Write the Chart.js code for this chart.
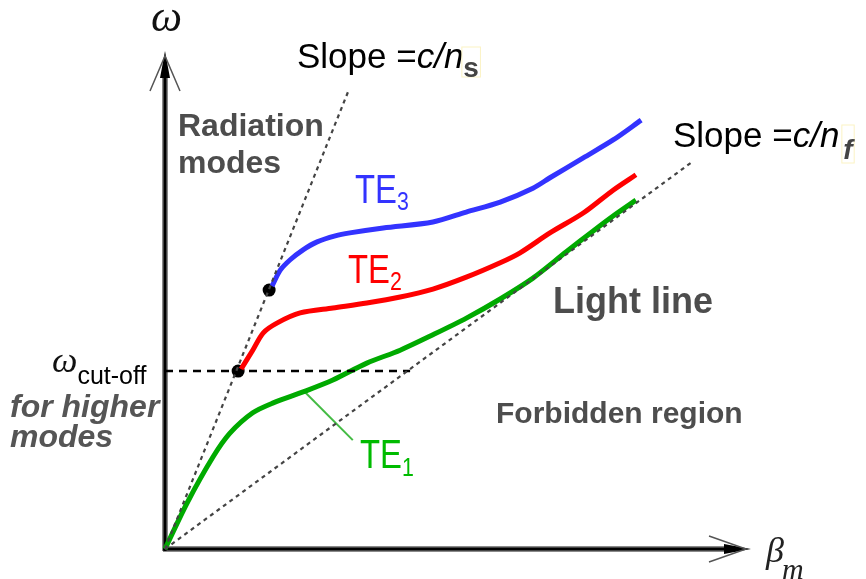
<!DOCTYPE html>
<html>
<head>
<meta charset="utf-8">
<script src="https://cdn.jsdelivr.net/npm/chart.js@4"></script>
<style>
  body { margin: 0; background: #fff; }
  canvas { display: block; }
</style>
</head>
<body>
<canvas id="dispersion" width="866" height="579"></canvas>
<script>
// beta (propagation constant) and omega, arbitrary units 0-10
const betaTE1  = [0, 0.38, 0.82, 1.11, 1.50, 1.85, 2.36, 2.87, 3.45, 4.02, 4.58, 5.16, 5.73, 6.29, 6.86, 7.32, 7.66, 8.05];
const omegaTE1 = [0, 0.93, 1.85, 2.33, 2.74, 2.94, 3.16, 3.40, 3.74, 4.00, 4.31, 4.65, 5.03, 5.45, 5.98, 6.40, 6.70, 7.02];
const betaTE2  = [1.30, 1.50, 1.68, 1.92, 2.31, 2.87, 3.45, 4.02, 4.58, 5.15, 5.73, 6.07, 6.58, 7.15, 7.66, 8.05];
const omegaTE2 = [3.62, 4.00, 4.35, 4.55, 4.75, 4.85, 4.95, 5.07, 5.23, 5.47, 5.76, 5.96, 6.36, 6.76, 7.22, 7.53];
const betaTE3  = [1.83, 1.97, 2.14, 2.36, 2.60, 2.91, 3.16, 3.73, 4.58, 5.15, 5.73, 6.29, 6.58, 7.15, 7.66, 8.14];
const omegaTE3 = [5.29, 5.61, 5.82, 6.02, 6.18, 6.30, 6.36, 6.46, 6.58, 6.78, 6.98, 7.26, 7.47, 7.87, 8.23, 8.63];

// light lines through the origin
const lightS = [[0, 0], [3.15, 9.26]];   // slope c/n_s
const lightF = [[0, 0], [8.99, 7.77]];   // slope c/n_f

// cut-off points where TE2 and TE3 begin
const cutoffBeta  = [1.25, 1.78];
const cutoffOmega = [3.58, 5.21];
const cutoffLevel = 3.58;
const cutoffEnd   = 4.19;

// leader from the TE1 label to its curve
const te1Leader = [[2.39, 3.16], [3.21, 2.19]];

const zip = (xs, ys) => xs.map((v, i) => ({ x: v, y: ys[i] }));
const pts = arr => arr.map(p => ({ x: p[0], y: p[1] }));

const SANS = '"Liberation Sans", Arial, sans-serif';
const SERIF = '"Liberation Serif", "Times New Roman", serif';
const GREY = '#4d4d4d';

// text placed on the sketch (pixel positions)
const labels = [
  { x: 297, y: 68, runs: [
    { text: 'Slope =', font: '35px ' + SANS },
    { text: 'c/n', font: 'italic 35px ' + SANS },
    { text: 's', font: 'bold 28px ' + SANS, color: '#444', dy: 9, box: [-30, 30] }
  ]},
  { x: 673, y: 147, runs: [
    { text: 'Slope =', font: '35px ' + SANS },
    { text: 'c/n', font: 'italic 35px ' + SANS },
    { text: 'f', font: 'bold italic 28px ' + SANS, color: '#444', dy: 12, box: [-34, 38], pad: 4 }
  ]},
  { x: 178, y: 136, runs: [{ text: 'Radiation', font: 'bold 32px ' + SANS, color: GREY }] },
  { x: 178, y: 173, runs: [{ text: 'modes', font: 'bold 32px ' + SANS, color: GREY }] },
  { x: 355, y: 203, runs: [
    { text: 'TE', font: '40px ' + SANS, color: '#3333ff', sx: 0.82 },
    { text: '3', font: '26px ' + SANS, color: '#3333ff', sx: 0.82, dy: 7 }
  ]},
  { x: 348, y: 283, runs: [
    { text: 'TE', font: '40px ' + SANS, color: '#ff0000', sx: 0.82 },
    { text: '2', font: '26px ' + SANS, color: '#ff0000', sx: 0.82, dy: 7 }
  ]},
  { x: 360, y: 468, runs: [
    { text: 'TE', font: '40px ' + SANS, color: '#00bb00', sx: 0.82 },
    { text: '1', font: '26px ' + SANS, color: '#00bb00', sx: 0.82, dy: 8 }
  ]},
  { x: 553, y: 313, runs: [{ text: 'Light line', font: 'bold 36px ' + SANS, color: GREY }] },
  { x: 496, y: 423, runs: [{ text: 'Forbidden region', font: 'bold 30px ' + SANS, color: GREY }] },
  { x: 52, y: 372, runs: [
    { text: '\u03c9', font: 'italic 36px ' + SERIF, color: '#111' },
    { text: 'cut-off', font: '25px ' + SANS, dy: 12 }
  ]},
  { x: 10, y: 417, runs: [{ text: 'for higher', font: 'italic bold 32px ' + SANS, color: '#555' }] },
  { x: 10, y: 447, runs: [{ text: 'modes', font: 'italic bold 32px ' + SANS, color: '#555' }] },
  { x: 151, y: 31, runs: [{ text: '\u03c9', font: 'italic 44px ' + SERIF, color: '#111' }] },
  { x: 766, y: 562, runs: [
    { text: '\u03b2', font: 'italic 36px ' + SERIF, color: '#222' },
    { text: 'm', font: 'italic 30px ' + SERIF, color: '#222', dy: 17, pad: -2 }
  ]}
];

function drawRuns(ctx, x, y, runs) {
  runs.forEach(r => {
    ctx.save();
    ctx.font = r.font;
    const sx = r.sx || 1;
    const w = ctx.measureText(r.text).width * sx;
    const bx = x + (r.pad || 0);
    if (r.box) {
      ctx.strokeStyle = '#fbf3c4';
      ctx.lineWidth = 1;
      ctx.strokeRect(bx - 1.5, y + (r.dy || 0) + r.box[0], w + 3, r.box[1]);
    }
    ctx.fillStyle = r.color || '#000';
    ctx.translate(bx, y + (r.dy || 0));
    ctx.scale(sx, 1);
    ctx.textBaseline = 'alphabetic';
    ctx.fillText(r.text, 0, 0);
    ctx.restore();
    x = bx + w;
  });
}

const sketchPlugin = {
  id: 'sketch',
  beforeDatasetsDraw(chart) {
    const { ctx, scales: { x, y } } = chart;
    const x0 = x.getPixelForValue(0), y0 = y.getPixelForValue(0);
    const xEnd = x.getPixelForValue(10), yEnd = y.getPixelForValue(10);
    ctx.save();
    ctx.lineCap = 'butt';
    // axes: grey halo with black core
    [['#8a8a8a', 6], ['#000', 3]].forEach(([c, w]) => {
      ctx.strokeStyle = c;
      ctx.lineWidth = w;
      ctx.beginPath();
      ctx.moveTo(x0, y0 + 2);
      ctx.lineTo(x0, yEnd + 20);
      ctx.moveTo(x0 - 2, y0);
      ctx.lineTo(xEnd - 20, y0);
      ctx.stroke();
    });
    // arrow heads
    ctx.fillStyle = '#000';
    ctx.beginPath();
    ctx.moveTo(x0, yEnd - 1);
    ctx.lineTo(x0 - 5, yEnd + 26);
    ctx.lineTo(x0 + 5, yEnd + 26);
    ctx.closePath();
    ctx.fill();
    ctx.beginPath();
    ctx.moveTo(xEnd + 1, y0);
    ctx.lineTo(xEnd - 26, y0 - 5);
    ctx.lineTo(xEnd - 26, y0 + 5);
    ctx.closePath();
    ctx.fill();
    ctx.strokeStyle = '#555';
    ctx.lineWidth = 1.5;
    ctx.beginPath();
    ctx.moveTo(x0 - 15, yEnd + 39);
    ctx.lineTo(x0, yEnd + 4);
    ctx.lineTo(x0 + 15, yEnd + 39);
    ctx.moveTo(xEnd - 41, y0 - 13);
    ctx.lineTo(xEnd - 4, y0);
    ctx.lineTo(xEnd - 41, y0 + 13);
    ctx.stroke();
    ctx.restore();
  },
  afterDatasetsDraw(chart) {
    const ctx = chart.ctx;
    labels.forEach(l => drawRuns(ctx, l.x, l.y, l.runs));
  }
};

const dotted = { borderColor: '#444', borderWidth: 2.2, borderDash: [4, 4], pointRadius: 0, tension: 0 };

new Chart(document.getElementById('dispersion'), {
  type: 'scatter',
  data: {
    datasets: [
      { ...dotted, label: 'c/n_s', data: pts(lightS), showLine: true },
      { ...dotted, label: 'c/n_f', data: pts(lightF), showLine: true },
      { label: 'cut-off', data: [{ x: 0, y: cutoffLevel }, { x: cutoffEnd, y: cutoffLevel }], showLine: true,
        borderColor: '#000', borderWidth: 2.5, borderDash: [8, 6], pointRadius: 0 },
      { label: 'TE1', data: zip(betaTE1, omegaTE1), showLine: true, borderColor: '#00aa00',
        borderWidth: 5, pointRadius: 0, tension: 0.3 },
      { label: 'TE2', data: zip(betaTE2, omegaTE2), showLine: true, borderColor: '#ff0000',
        borderWidth: 5, pointRadius: 0, tension: 0.3 },
      { label: 'TE3', data: zip(betaTE3, omegaTE3), showLine: true, borderColor: '#3333ff',
        borderWidth: 5, pointRadius: 0, tension: 0.3 },
      { label: 'leader', data: pts(te1Leader), showLine: true, borderColor: '#44bb44',
        borderWidth: 2, pointRadius: 0 },
      { label: 'cut-off points', data: zip(cutoffBeta, cutoffOmega), showLine: false,
        pointRadius: 6.5, pointBackgroundColor: '#000', pointBorderWidth: 0 }
    ]
  },
  options: {
    responsive: false,
    animation: false,
    devicePixelRatio: 1,
    clip: false,
    layout: { padding: { left: 165, right: 116, top: 52, bottom: 30 } },
    plugins: { legend: { display: false }, tooltip: { enabled: false } },
    scales: {
      x: { type: 'linear', min: 0, max: 10, display: false },
      y: { type: 'linear', min: 0, max: 10, display: false }
    }
  },
  plugins: [sketchPlugin]
});
</script>
</body>
</html>
